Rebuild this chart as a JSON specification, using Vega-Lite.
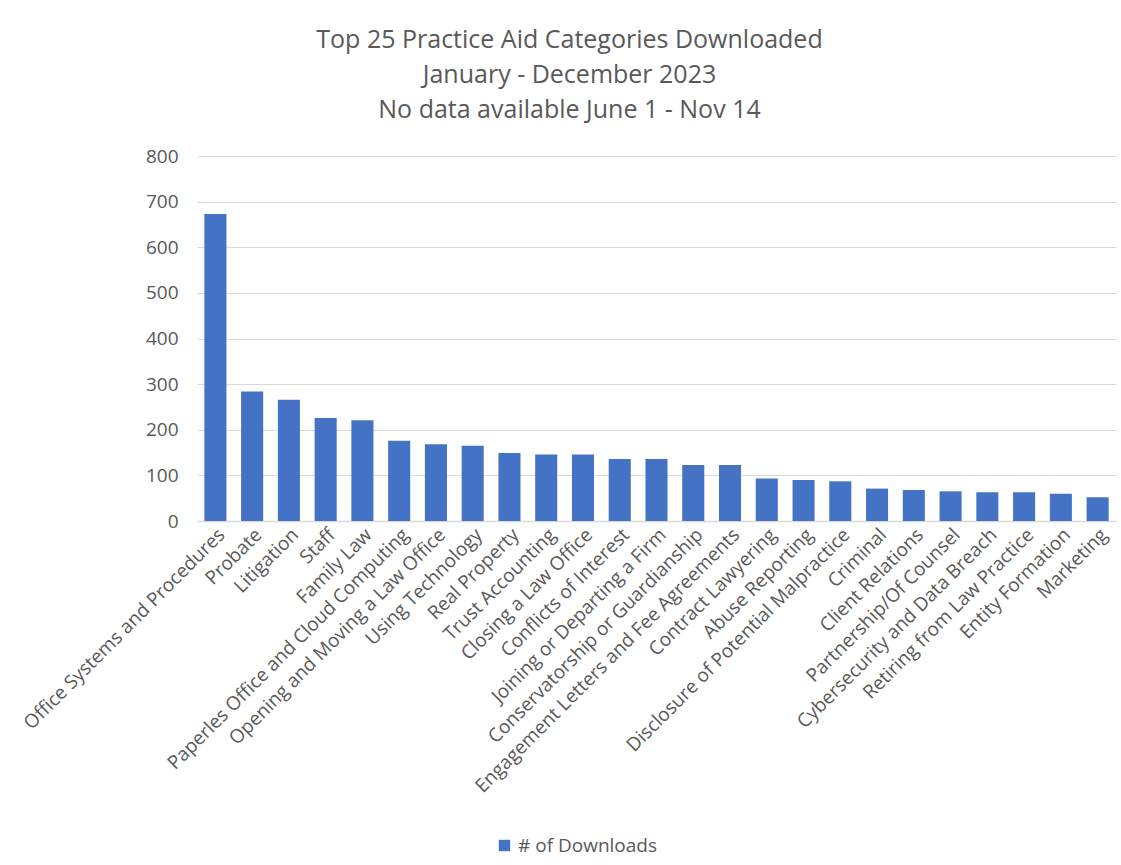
{
  "$schema": "https://vega.github.io/schema/vega-lite/v6.json",
  "width": 919,
  "height": 365,
  "autosize": {"type": "none"},
  "padding": {"left": 197, "top": 156, "right": 5, "bottom": 344},
  "background": "white",
  "title": {
    "text": ["Top 25 Practice Aid Categories Downloaded", "January - December 2023", "No data available June 1 - Nov 14"],
    "font": "Open Sans",
    "fontSize": 25,
    "fontWeight": "normal",
    "color": "#595959",
    "lineHeight": 35,
    "anchor": "middle",
    "dx": -87,
    "offset": 24
  },
  "data": {
    "values": [
      {"category": "Office Systems and Procedures", "downloads": 673, "series": "# of Downloads"},
      {"category": "Probate", "downloads": 284, "series": "# of Downloads"},
      {"category": "Litigation", "downloads": 266, "series": "# of Downloads"},
      {"category": "Staff", "downloads": 226, "series": "# of Downloads"},
      {"category": "Family Law", "downloads": 221, "series": "# of Downloads"},
      {"category": "Paperles Office and Cloud Computing", "downloads": 176, "series": "# of Downloads"},
      {"category": "Opening and Moving a Law Office", "downloads": 168, "series": "# of Downloads"},
      {"category": "Using Technology", "downloads": 165, "series": "# of Downloads"},
      {"category": "Real Property", "downloads": 149, "series": "# of Downloads"},
      {"category": "Trust Accounting", "downloads": 146, "series": "# of Downloads"},
      {"category": "Closing a Law Office", "downloads": 146, "series": "# of Downloads"},
      {"category": "Conflicts of Interest", "downloads": 136, "series": "# of Downloads"},
      {"category": "Joining or Departing a Firm", "downloads": 136, "series": "# of Downloads"},
      {"category": "Conservatorship or Guardianship", "downloads": 123, "series": "# of Downloads"},
      {"category": "Engagement Letters and Fee Agreements", "downloads": 123, "series": "# of Downloads"},
      {"category": "Contract Lawyering", "downloads": 93, "series": "# of Downloads"},
      {"category": "Abuse Reporting", "downloads": 90, "series": "# of Downloads"},
      {"category": "Disclosure of Potential Malpractice", "downloads": 87, "series": "# of Downloads"},
      {"category": "Criminal", "downloads": 71, "series": "# of Downloads"},
      {"category": "Client Relations", "downloads": 68, "series": "# of Downloads"},
      {"category": "Partnership/Of Counsel", "downloads": 65, "series": "# of Downloads"},
      {"category": "Cybersecurity and Data Breach", "downloads": 63, "series": "# of Downloads"},
      {"category": "Retiring from Law Practice", "downloads": 63, "series": "# of Downloads"},
      {"category": "Entity Formation", "downloads": 60, "series": "# of Downloads"},
      {"category": "Marketing", "downloads": 52, "series": "# of Downloads"}
    ]
  },
  "mark": {"type": "bar"},
  "encoding": {
    "x": {
      "field": "category",
      "type": "nominal",
      "sort": null,
      "scale": {"paddingInner": 0.4, "paddingOuter": 0.2},
      "axis": {
        "title": null,
        "labelAngle": -45,
        "labelAlign": "right",
        "labelBaseline": "top",
        "labelFont": "Open Sans",
        "labelFontSize": 19,
        "labelColor": "#595959",
        "labelPadding": 4,
        "labelLimit": 0,
        "labelOverlap": false,
        "ticks": false,
        "domainColor": "#d9d9d9",
        "domainWidth": 1.5
      }
    },
    "y": {
      "field": "downloads",
      "type": "quantitative",
      "scale": {"domain": [0, 800], "nice": false},
      "axis": {
        "title": null,
        "values": [0, 100, 200, 300, 400, 500, 600, 700, 800],
        "labelFont": "Open Sans",
        "labelFontSize": 19,
        "labelColor": "#595959",
        "labelPadding": 19,
        "ticks": false,
        "domain": false,
        "gridColor": "#d9d9d9",
        "gridWidth": 1.2
      }
    },
    "color": {
      "field": "series",
      "type": "nominal",
      "scale": {"range": ["#4472C4"]},
      "legend": {
        "title": null,
        "orient": "none",
        "legendX": 298,
        "legendY": 680,
        "symbolType": "square",
        "symbolSize": 130,
        "symbolOpacity": 1,
        "labelFont": "Open Sans",
        "labelFontSize": 19,
        "labelColor": "#595959",
        "labelOffset": 4
      }
    }
  },
  "config": {
    "view": {"stroke": null}
  }
}
